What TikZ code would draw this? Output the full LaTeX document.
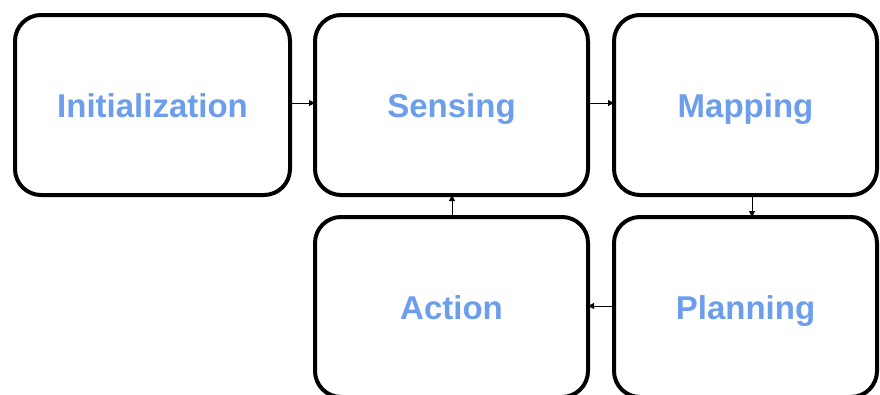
\documentclass[tikz,border=0pt]{standalone}
\usepackage{fontspec}
\setmainfont{Liberation Sans}
\usetikzlibrary{arrows.meta}
\definecolor{lblue}{HTML}{6D9EEB}
\begin{document}
\begin{tikzpicture}[x=1pt,y=-1pt,
  stagebox/.style={draw=black, line width=4pt, rounded corners=26pt, fill=white,
    inner sep=0pt, outer sep=0pt, text=lblue, text height=26pt, text depth=2pt,
    font=\fontsize{33}{36}\selectfont\bfseries},
  link/.style={draw=black, line width=1pt, -{Triangle[length=6pt,width=6pt]}}]
\useasboundingbox (0,0) rectangle (880,394);
\clip (0,0) rectangle (880,394);
\fill[white] (0,0) rectangle (880,394);
\node[stagebox, minimum width=275pt, minimum height=180pt] (init) at (152.5,105) {Initialization};
\node[stagebox, minimum width=273pt, minimum height=180pt] (sens) at (451.5,105) {Sensing};
\node[stagebox, minimum width=263pt, minimum height=180pt] (map) at (745.5,105) {Mapping};
\node[stagebox, minimum width=273pt, minimum height=180pt] (act) at (451.5,307) {Action};
\node[stagebox, minimum width=263pt, minimum height=180pt] (plan) at (745.5,307) {Planning};
\draw[link] (init.east |- 0,103) -- (sens.west |- 0,103);
\draw[link] (sens.east |- 0,103) -- (map.west |- 0,103);
\draw[link] (map.south -| 752,0) -- (plan.north -| 752,0);
\draw[link] (plan.west |- 0,306) -- (act.east |- 0,306);
\draw[link] (act.north -| 452,0) -- (sens.south -| 452,0);
\end{tikzpicture}
\end{document}
